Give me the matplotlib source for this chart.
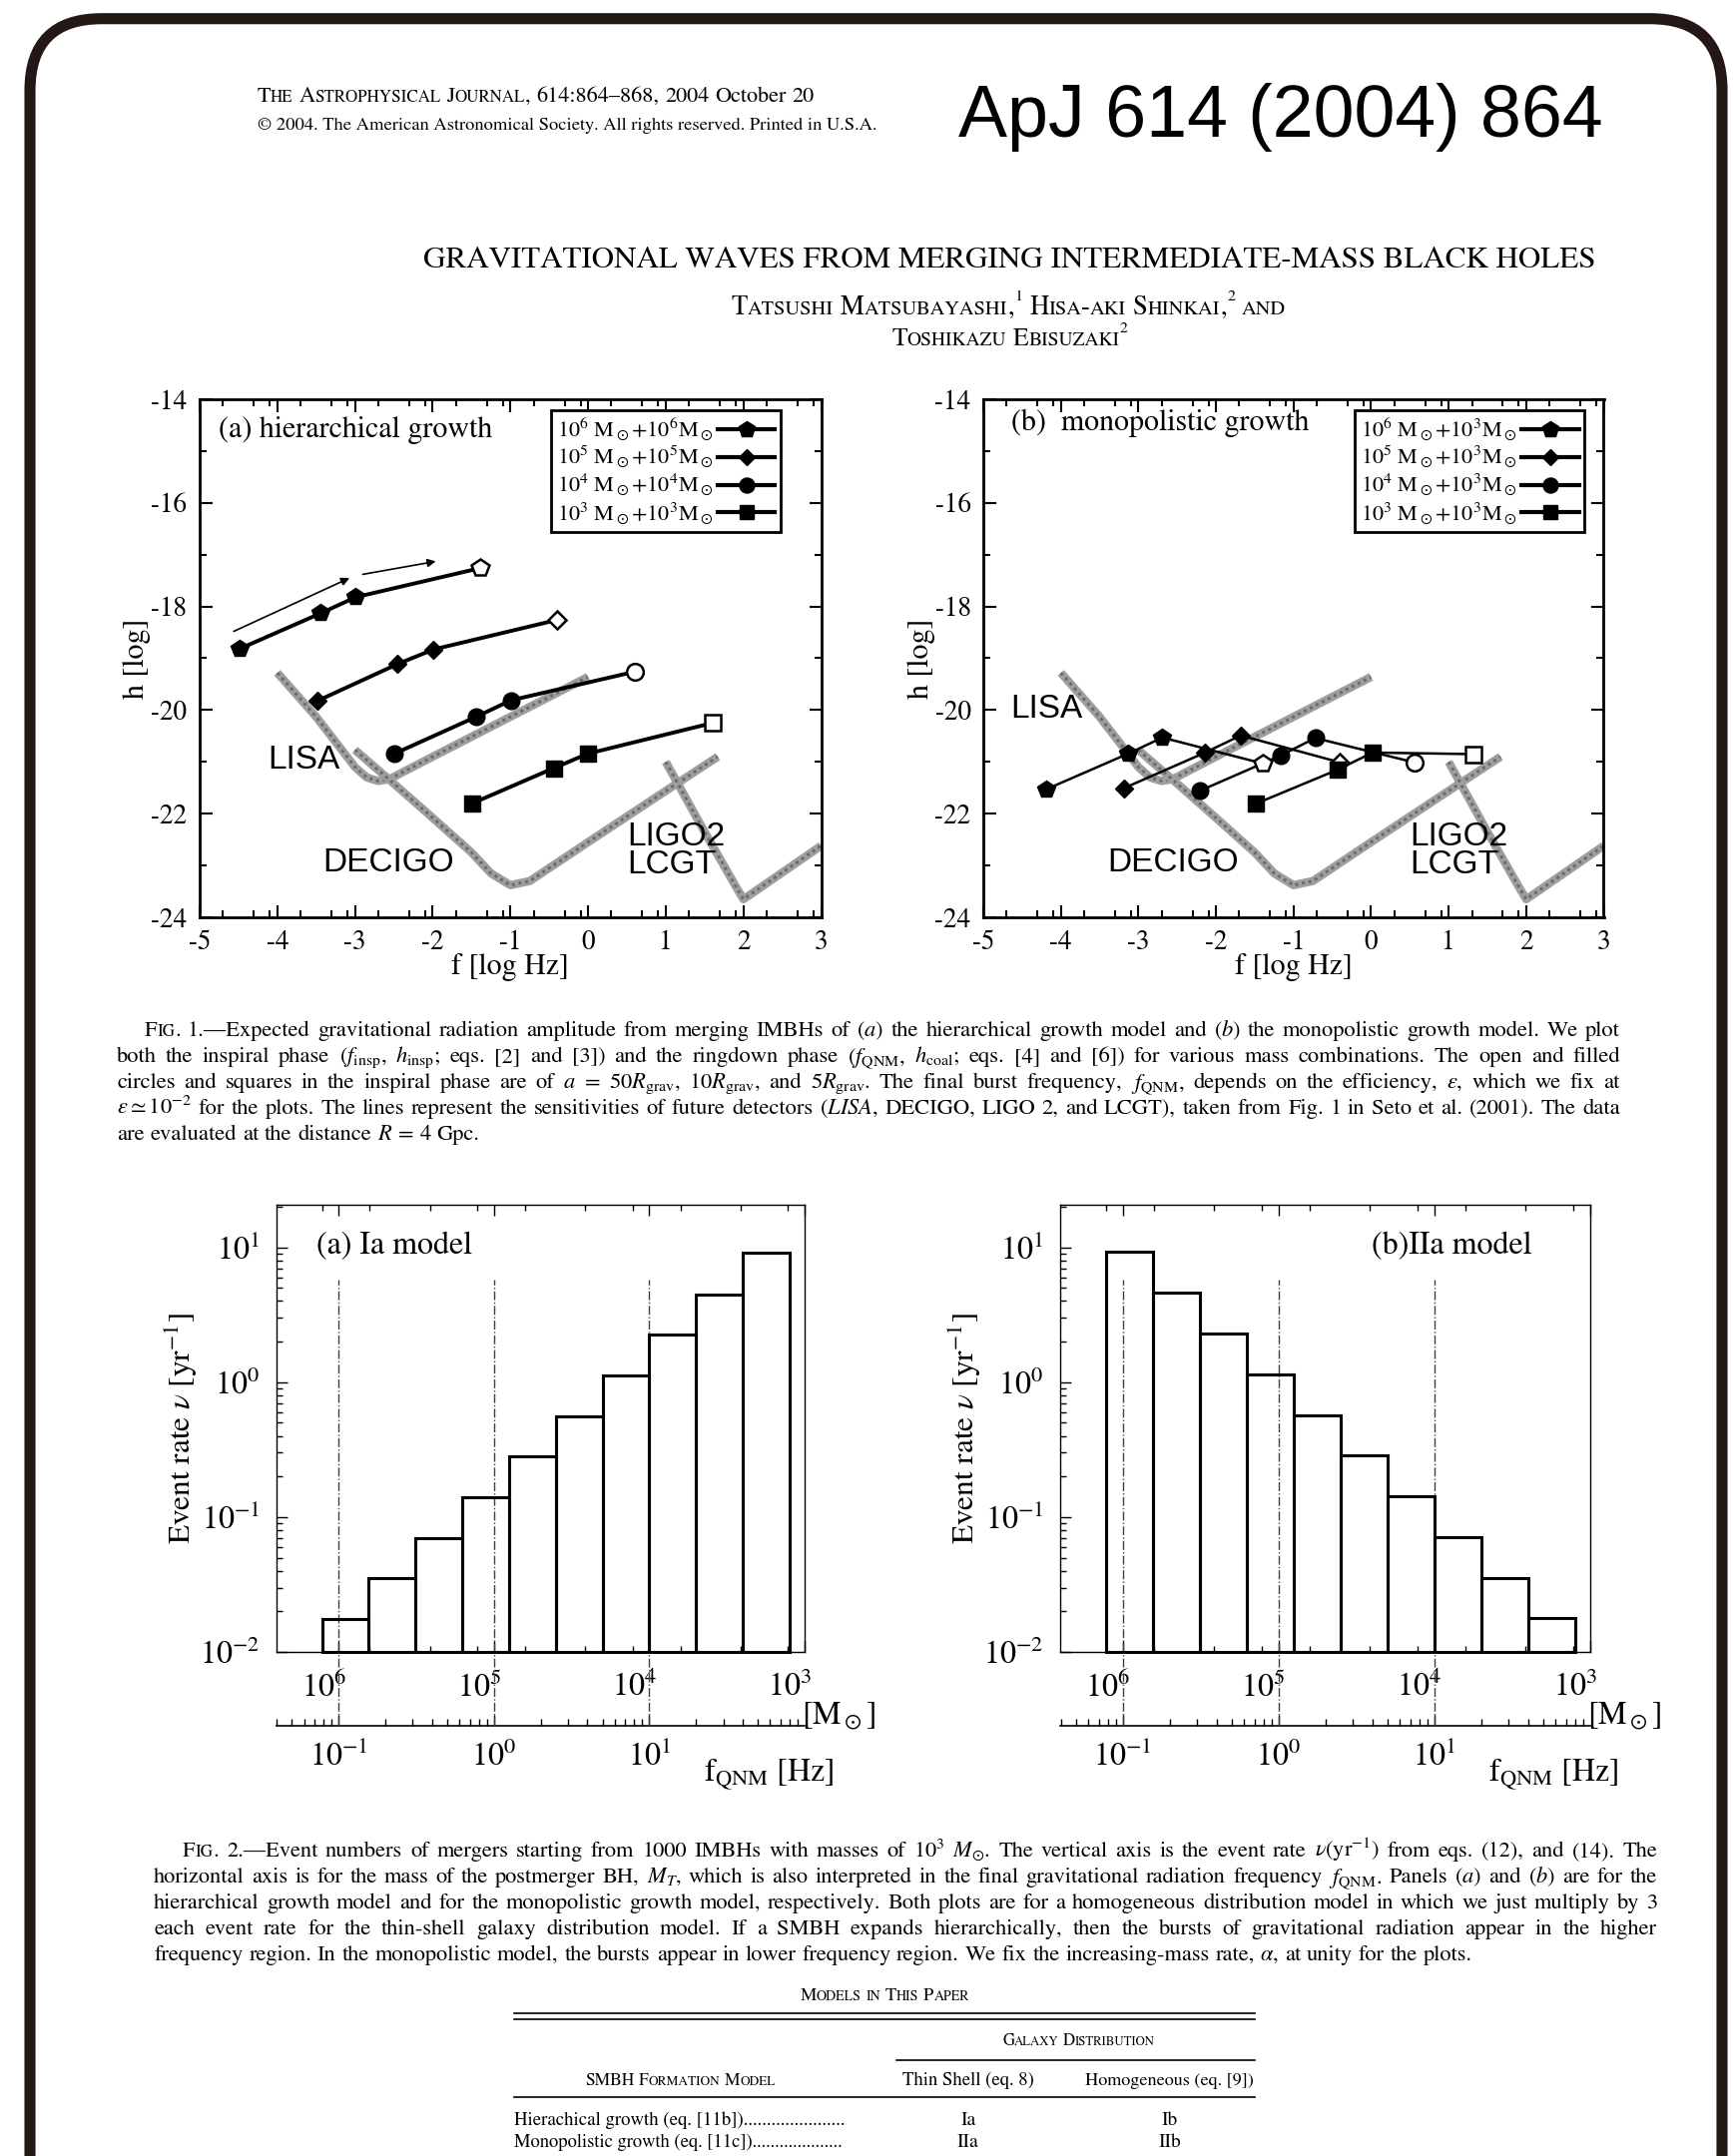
import numpy as np
import matplotlib
matplotlib.use('Agg')
import matplotlib.pyplot as plt
from matplotlib.lines import Line2D
from matplotlib.patches import FancyBboxPatch
from matplotlib.ticker import (FixedLocator, NullFormatter, LogLocator,
                               LogFormatterSciNotation)
from matplotlib.transforms import ScaledTranslation

plt.rcParams['font.family'] = 'STIXGeneral'
plt.rcParams['mathtext.fontset'] = 'stix'
plt.rcParams['axes.unicode_minus'] = False

#############################################################
# Data - Fig. 1 (log f [Hz], log h)
#############################################################

hier_labels = [r"10$^6$ M$_\odot$+10$^6$M$_\odot$",
               r"10$^5$ M$_\odot$+10$^5$M$_\odot$",
               r"10$^4$ M$_\odot$+10$^4$M$_\odot$",
               r"10$^3$ M$_\odot$+10$^3$M$_\odot$"]
hier_f = [[-4.49, -3.44, -2.99, -1.39],
          [-3.48, -2.45, -1.99, -0.40],
          [-2.49, -1.44, -0.99, 0.60],
          [-1.49, -0.44, 0.00, 1.60]]
hier_h = [[-18.82, -18.13, -17.82, -17.26],
          [-19.82, -19.11, -18.83, -18.26],
          [-20.84, -20.13, -19.81, -19.26],
          [-21.80, -21.12, -20.84, -20.25]]

mono_labels = [r"10$^6$ M$_\odot$+10$^3$M$_\odot$",
               r"10$^5$ M$_\odot$+10$^3$M$_\odot$",
               r"10$^4$ M$_\odot$+10$^3$M$_\odot$",
               r"10$^3$ M$_\odot$+10$^3$M$_\odot$"]
mono_f = [[-4.19, -3.13, -2.69, -1.40],
          [-3.19, -2.14, -1.68, -0.40],
          [-2.21, -1.17, -0.72, 0.56],
          [-1.49, -0.43, 0.02, 1.32]]
mono_h = [[-21.53, -20.84, -20.53, -21.03],
          [-21.51, -20.82, -20.49, -21.01],
          [-21.56, -20.88, -20.54, -21.01],
          [-21.81, -21.15, -20.82, -20.85]]

# detector sensitivity curves
lisa_f = [-4.0, -3.5, -3.0, -2.85, -2.7, -2.55, -2.4, -2.0, -1.0, 0.0]
lisa_h = [-19.28, -20.13, -21.1, -21.3, -21.37, -21.33, -21.21, -20.9, -20.13, -19.36]
decigo_f = [-3.0, -2.5, -2.0, -1.5, -1.25, -1.0, -0.75, -0.5, 0.0, 1.0, 1.67]
decigo_h = [-20.77, -21.42, -22.08, -22.75, -23.15, -23.38, -23.3, -23.05, -22.55, -21.56, -20.9]
ligo_f = [1.0, 1.5, 1.9, 2.0, 2.1, 3.0]
ligo_h = [-21.0, -22.35, -23.4, -23.65, -23.55, -22.62]

detector_names = ['LISA', 'DECIGO', 'LIGO2', 'LCGT']
detector_pos_a = [(-3.66, -20.97), (-2.57, -22.95), (0.5, -22.44), (0.5, -22.99)]
detector_pos_b = [(-4.19, -19.99), (-2.55, -22.95), (0.5, -22.44), (0.5, -22.99)]
arrows_a = [((-4.56, -18.48), (-3.07, -17.45)), ((-2.90, -17.38), (-1.96, -17.13))]

#############################################################
# Data - Fig. 2 (event rate per mass bin)
#############################################################

mass_edges = [1.28e6, 6.4e5, 3.2e5, 1.6e5, 8.0e4, 4.0e4, 2.0e4, 1.0e4, 5.0e3, 2.5e3, 1.25e3]
rate_Ia = [0.0176, 0.035, 0.070, 0.141, 0.28, 0.56, 1.13, 2.25, 4.5, 9.2]
rate_IIa = [9.3, 4.6, 2.28, 1.15, 0.57, 0.285, 0.143, 0.071, 0.0355, 0.018]
mass_major = [1e6, 1e5, 1e4, 1e3]
mass_minor = [1.28e6, 6.3e5, 2.58e5, 1.28e5, 6.3e4, 2.58e4, 1.28e4, 6.3e3, 2.58e3, 1.28e3]
dash_masses = [1e6, 1e5, 1e4]
f_ticks = [0.1, 1, 10]

#############################################################
# Page helpers
#############################################################

W, H = 1736, 2160
PX = 100 / 72.0
fig = plt.figure(figsize=(W / 100, H / 100), dpi=100)
R = fig.canvas.get_renderer()
SERIF = 'STIXGeneral'
SANS = 'Liberation Sans'


def axes_px(l, t, r, b):
    return fig.add_axes([l / W, 1 - b / H, (r - l) / W, (b - t) / H])


def sc(word, k=0.76):
    # fake small caps
    out = []
    for ch in word:
        small = ch.islower()
        c = ch.upper() if small else ch
        f = k if small else 1.0
        if out and out[-1][1] == f:
            out[-1] = (out[-1][0] + c, f, 0.0)
        else:
            out.append((c, f, 0.0))
    return out


def runs_of(w):
    if isinstance(w, str):
        return [(w, 1.0, 0.0)]
    return [r if len(r) == 3 else (r[0], r[1], 0.0) for r in w]


def text_line(words, x, yc, size, width=None, ha='left', justify=False,
              family=SERIF, gap=0.26, dry=False):
    words = [runs_of(w) for w in words]
    items = []
    for w in words:
        row = []
        for s, k, dy in w:
            t = fig.text(0, 0, s, fontsize=size * k, family=family,
                         va='baseline', ha='left')
            row.append([t, k, dy, 0.0])
        items.append(row)

    def measure():
        tot = []
        for row in items:
            ws = 0
            for it in row:
                it[3] = it[0].get_window_extent(R).width
                ws += it[3]
            tot.append(ws)
        return tot

    widths = measure()
    sp = gap * size * PX
    nat = sum(widths) + sp * (len(words) - 1)
    if dry:
        for row in items:
            for it in row:
                it[0].remove()
        return nat
    if width is not None and (not justify or nat > width):
        size *= width / nat
        for row in items:
            for it in row:
                it[0].set_fontsize(size * it[1])
        widths = measure()
        sp = gap * size * PX
        nat = sum(widths) + sp * (len(words) - 1)
    if justify and width is not None and len(words) > 1:
        sp = (width - sum(widths)) / (len(words) - 1)
        nat = width
    base = yc + 0.33 * size * PX
    cx = {'left': x, 'center': x - nat / 2, 'right': x - nat}[ha]
    for row in items:
        for t, k, dy, wd in row:
            t.set_position((cx / W, 1 - (base + dy * size * PX) / H))
            cx += wd
        cx += sp
    return size


def paragraph(lines, x_first, x_left, x_right, y0, dy, size):
    # pick one font size so that the widest line just fits
    ratio = 0
    for i, words in enumerate(lines[:-1]):
        x = x_first if i == 0 else x_left
        nat = text_line(words, x, 0, size, dry=True)
        ratio = max(ratio, nat / (x_right - x))
    size = size / ratio * 0.985
    for i, words in enumerate(lines):
        x = x_first if i == 0 else x_left
        last = i == len(lines) - 1
        text_line(words, x, y0 + i * dy, size,
                  width=None if last else x_right - x, justify=not last)


def hline(x0, x1, y, lw=1.2):
    fig.add_artist(Line2D([x0 / W, x1 / W], [1 - y / H, 1 - y / H],
                          transform=fig.transFigure, color='k', lw=lw))


#############################################################
# Fig. 1 panels
#############################################################

markers = ['p', 'D', 'o', 's']
msizes = [13, 9, 12, 11]


def gw_panel(l, r, fs, hs, labels, lw, title, title_xy, leg_x, det_pos):
    ax = axes_px(l, 400, r, 919)
    for f, h in [(lisa_f, lisa_h), (decigo_f, decigo_h), (ligo_f, ligo_h)]:
        ax.plot(f, h, color='0.62', lw=6, solid_capstyle='butt', zorder=1)
        ax.plot(f, h, color='0.42', lw=2.2, ls=(0, (1, 1.2)), zorder=1)
    handles = []
    for i in range(4):
        ax.plot(fs[i], hs[i], color='k', lw=lw, zorder=3)
        ax.plot(fs[i][:-1], hs[i][:-1], ls='none', marker=markers[i],
                ms=msizes[i], mfc='k', mec='k', zorder=4)
        ax.plot(fs[i][-1:], hs[i][-1:], ls='none', marker=markers[i],
                ms=msizes[i], mfc='w', mec='k', mew=1.8, zorder=4)
        handles.append(Line2D([], [], color='k', lw=3, marker=markers[i],
                              ms=msizes[i] * 0.9, mfc='k', mec='k'))
    for name, (x, y) in zip(detector_names, det_pos):
        ha = 'left' if name in ('LIGO2', 'LCGT') else 'center'
        ax.text(x, y, name, family=SANS, fontsize=24, ha=ha, va='center', zorder=2)
    ax.set_xlim(-5, 3)
    ax.set_ylim(-24, -14)
    ax.set_xticks(range(-5, 4))
    ax.set_yticks(range(-24, -13, 2))
    ax.xaxis.set_minor_locator(FixedLocator(
        [n + d for n in range(-5, 3) for d in (0.301, 0.699, 0.903)]))
    ax.yaxis.set_minor_locator(FixedLocator(range(-23, -14, 2)))
    ax.tick_params(which='both', direction='in', top=True, right=True,
                   labelsize=19.5, pad=9, width=1.5)
    ax.tick_params(which='major', length=9)
    ax.tick_params(which='minor', length=5)
    for s in ax.spines.values():
        s.set_linewidth(2)
    ax.set_xlabel('f [log Hz]', fontsize=21.5)
    ax.set_ylabel('h [log]', fontsize=21.5)
    ax.xaxis.set_label_coords(0.5, -0.07)
    ax.yaxis.set_label_coords(-0.078, 0.5)
    ax.text(title_xy[0], title_xy[1], title, transform=ax.transAxes,
            fontsize=21.5, ha='left', va='center')
    leg = ax.legend(handles, labels, loc='upper right',
                    bbox_to_anchor=(leg_x, 0.979), borderaxespad=0,
                    markerfirst=False, numpoints=1, handlelength=2.6,
                    handletextpad=0.2, labelspacing=0.08, borderpad=0.25,
                    fontsize=16, fancybox=False, edgecolor='k', framealpha=1)
    leg.get_frame().set_linewidth(2)
    return ax


ax1 = gw_panel(200, 822.5, hier_f, hier_h, hier_labels, 2.8,
               '(a) hierarchical growth', (0.031, 0.94), 0.935, detector_pos_a)
for start, end in arrows_a:
    ax1.annotate('', xy=end, xytext=start,
                 arrowprops=dict(arrowstyle='-|>', lw=1.2, color='k',
                                 mutation_scale=12, shrinkA=0, shrinkB=0))
ax2 = gw_panel(985, 1606.5, mono_f, mono_h, mono_labels, 1.8,
               '(b)  monopolistic growth', (0.045, 0.955), 0.969, detector_pos_b)

#############################################################
# Fig. 2 panels
#############################################################


def m2f(m):
    m = np.asarray(m, float)
    with np.errstate(divide='ignore'):
        return 1e5 / m


def rate_panel(l, r, rates, title, tx, ha):
    ax = axes_px(l, 1207, r, 1655)
    ax.set_xscale('log')
    ax.set_yscale('log')
    ax.set_xlim(10 ** 6.4, 1e3)
    ax.set_ylim(0.01, 20.7)
    hi = np.array(mass_edges[:-1])
    lo = np.array(mass_edges[1:])
    ax.bar(lo, np.array(rates) - 0.01, width=hi - lo, bottom=0.01,
           align='edge', facecolor='none', edgecolor='k', lw=2.2,
           clip_on=False, zorder=3)
    for m in dash_masses:
        ax.plot([m, m], [-0.165, 0.833], transform=ax.get_xaxis_transform(),
                ls='-.', lw=1, color='0.25', clip_on=False, zorder=2)
    ax.xaxis.set_major_locator(FixedLocator(mass_major))
    ax.xaxis.set_minor_locator(FixedLocator(mass_minor))
    ax.xaxis.set_minor_formatter(NullFormatter())
    ax.set_yticks([0.01, 0.1, 1, 10])
    ax.tick_params(axis='x', which='both', direction='in', top=True,
                   bottom=True, labelsize=23, pad=14)
    ax.tick_params(axis='y', which='both', direction='in', left=True,
                   right=False, labelsize=23, pad=12)
    ax.tick_params(which='major', length=8, width=1)
    ax.tick_params(which='minor', length=4, width=1)
    shift = ScaledTranslation(-0.15, 0, fig.dpi_scale_trans)
    for lab in ax.get_xticklabels():
        lab.set_transform(lab.get_transform() + shift)
    for s in ax.spines.values():
        s.set_linewidth(1)
    ax.set_ylabel(r'Event rate $\nu$ [yr$^{-1}$]', fontsize=22.5)
    ax.yaxis.set_label_coords(-0.144, 0.5)
    ax.text(tx, 0.908, title, transform=ax.transAxes, fontsize=23,
            ha=ha, va='center')

    sec = ax.secondary_xaxis(-0.165, functions=(m2f, m2f))
    sec.set_xticks(f_ticks)
    sec.xaxis.set_major_formatter(LogFormatterSciNotation())
    sec.xaxis.set_minor_locator(LogLocator(subs=np.arange(2, 10)))
    sec.xaxis.set_minor_formatter(NullFormatter())
    sec.tick_params(which='both', direction='in', labelsize=23, pad=11, width=1)
    sec.tick_params(which='major', length=8)
    sec.tick_params(which='minor', length=5)
    sec.spines['bottom'].set_linewidth(1.2)

    ax.text(0.994, -0.143, r'[M$_\odot$]', transform=ax.transAxes,
            fontsize=23, ha='left', va='center')
    ax.text(0.809, -0.275, r'f$_{\rm QNM}$ [Hz]', transform=ax.transAxes,
            fontsize=23, ha='left', va='center')
    return ax


ax3 = rate_panel(277, 806, rate_Ia, '(a) Ia model', 0.076, 'left')
ax4 = rate_panel(1062.3, 1592.7, rate_IIa, '(b)IIa model', 0.891, 'right')

#############################################################
# Page text
#############################################################

text_line([sc('The'), sc('Astrophysical'), sc('Journal,'),
           '614:864–868,', '2004', 'October', '20'],
          257.6, 95, 13, width=559)
text_line(['© 2004. The American Astronomical Society. All rights reserved. Printed in U.S.A.'],
          257.6, 124, 11, width=621)
text_line(['ApJ 614 (2004) 864'], 960, 113, 50, width=646, family=SANS)
text_line(['GRAVITATIONAL WAVES FROM MERGING INTERMEDIATE-MASS BLACK HOLES'],
          424, 257.6, 20, width=1174)
text_line([sc('Tatsushi'), sc('Matsubayashi,') + [('1', 0.6, -0.5)],
           sc('Hisa-aki'), sc('Shinkai,') + [('2', 0.6, -0.5)], sc('and')],
          1010.6, 306, 15, width=558, ha='center')
text_line([sc('Toshikazu'), sc('Ebisuzaki') + [('2', 0.6, -0.5)]],
          1011.3, 337.6, 15, width=237, ha='center')

cap1 = [
    [sc('Fig.'), '1.—Expected', 'gravitational', 'radiation', 'amplitude', 'from',
     'merging', 'IMBHs', 'of', r'($\mathit{a}$)', 'the', 'hierarchical', 'growth',
     'model', 'and', r'($\mathit{b}$)', 'the', 'monopolistic', 'growth', 'model.',
     'We', 'plot'],
    ['both', 'the', 'inspiral', 'phase', r'($\mathit{f}_{\rm insp}$,',
     r'$\mathit{h}_{\rm insp}$;', 'eqs.', '[2]', 'and', '[3])', 'and', 'the',
     'ringdown', 'phase', r'($\mathit{f}_{\rm QNM}$,', r'$\mathit{h}_{\rm coal}$;',
     'eqs.', '[4]', 'and', '[6])', 'for', 'various', 'mass', 'combinations.',
     'The', 'open', 'and', 'filled'],
    ['circles', 'and', 'squares', 'in', 'the', 'inspiral', 'phase', 'are', 'of',
     r'$\mathit{a}$', '=', r'$50\mathit{R}_{\rm grav}$,', r'$10\mathit{R}_{\rm grav}$,',
     'and', r'$5\mathit{R}_{\rm grav}$.', 'The', 'final', 'burst', 'frequency,',
     r'$\mathit{f}_{\rm QNM}$,', 'depends', 'on', 'the', 'efficiency,',
     r'$\epsilon$,', 'which', 'we', 'fix', 'at'],
    [r'$\epsilon\simeq10^{-2}$', 'for', 'the', 'plots.', 'The', 'lines',
     'represent', 'the', 'sensitivities', 'of', 'future', 'detectors',
     r'($\mathit{LISA}$,', 'DECIGO,', 'LIGO', '2,', 'and', 'LCGT),', 'taken',
     'from', 'Fig.', '1', 'in', 'Seto', 'et', 'al.', '(2001).', 'The', 'data'],
    ['are', 'evaluated', 'at', 'the', 'distance', r'$\mathit{R}$', '=', '4', 'Gpc.'],
]
paragraph(cap1, 144.7, 117, 1623, 1030.6, 26.0, 14.5)

cap2 = [
    [sc('Fig.'), '2.—Event', 'numbers', 'of', 'mergers', 'starting', 'from',
     '1000', 'IMBHs', 'with', 'masses', 'of', r'$10^3$', r'$\mathit{M}_{\odot}$.',
     'The', 'vertical', 'axis', 'is', 'the', 'event', 'rate',
     r'$\nu$(yr$^{-1}$)', 'from', 'eqs.', '(12),', 'and', '(14).', 'The'],
    ['horizontal', 'axis', 'is', 'for', 'the', 'mass', 'of', 'the', 'postmerger',
     'BH,', r'$\mathit{M}_{T}$,', 'which', 'is', 'also', 'interpreted', 'in',
     'the', 'final', 'gravitational', 'radiation', 'frequency',
     r'$\mathit{f}_{\rm QNM}$.', 'Panels', r'($\mathit{a}$)', 'and',
     r'($\mathit{b}$)', 'are', 'for', 'the'],
    ['hierarchical', 'growth', 'model', 'and', 'for', 'the', 'monopolistic',
     'growth', 'model,', 'respectively.', 'Both', 'plots', 'are', 'for', 'a',
     'homogeneous', 'distribution', 'model', 'in', 'which', 'we', 'just',
     'multiply', 'by', '3'],
    ['each', 'event', 'rate', 'for', 'the', 'thin-shell', 'galaxy',
     'distribution', 'model.', 'If', 'a', 'SMBH', 'expands', 'hierarchically,',
     'then', 'the', 'bursts', 'of', 'gravitational', 'radiation', 'appear',
     'in', 'the', 'higher'],
    ['frequency', 'region.', 'In', 'the', 'monopolistic', 'model,', 'the',
     'bursts', 'appear', 'in', 'lower', 'frequency', 'region.', 'We', 'fix',
     'the', 'increasing-mass', 'rate,', r'$\alpha$,', 'at', 'unity', 'for',
     'the', 'plots.'],
]
paragraph(cap2, 183.2, 154.3, 1660, 1853, 25.9, 14.5)

# table
text_line([sc('Models'), sc('in'), sc('This'), sc('Paper')], 886, 1998, 12,
          width=169, ha='center')
hline(515.3, 1256.5, 2017)
hline(515.3, 1256.5, 2022.5)
text_line([sc('Galaxy'), sc('Distribution')], 1080.5, 2043, 12, width=153,
          ha='center')
hline(898, 1256.5, 2064)
text_line([sc('SMBH'), sc('Formation'), sc('Model')], 681.5, 2083, 12,
          width=189, ha='center')
text_line(['Thin Shell (eq. 8)'], 970, 2083, 13, width=132, ha='center')
text_line(['Homogeneous (eq. [9])'], 1171.7, 2083, 13, width=169, ha='center')
hline(515.3, 1256.5, 2101)
text_line(['Hierachical growth (eq. [11b])' + '.' * 22], 515.3, 2123, 13, width=332)
text_line(['Monopolistic growth (eq. [11c])' + '.' * 20], 515.3, 2145, 13, width=332)
text_line(['Ia'], 970, 2123, 14, ha='center')
text_line(['Ib'], 1171.7, 2123, 14, ha='center')
text_line(['IIa'], 970, 2145, 14, ha='center')
text_line(['IIb'], 1171.7, 2145, 14, ha='center')

# page frame
fig.add_artist(FancyBboxPatch((30, -300), 1695, H - 18.7 + 300,
                              boxstyle='round,pad=0,rounding_size=72',
                              transform=None, fill=False, ec='#231815', lw=8))

fig.savefig('out.png', dpi=100)
